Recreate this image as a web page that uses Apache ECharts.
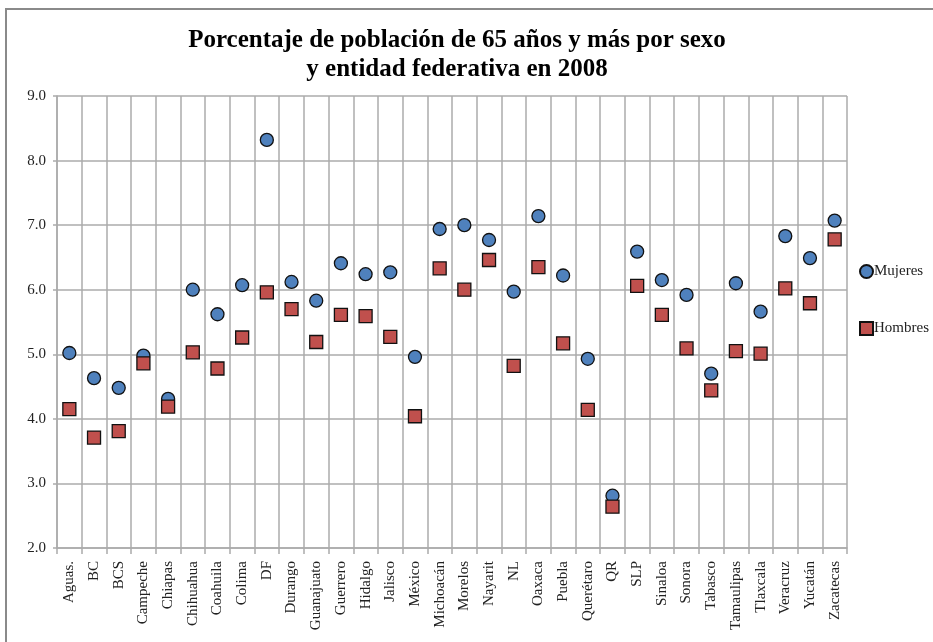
<!DOCTYPE html>
<html>
<head>
<meta charset="utf-8">
<script src="https://cdn.jsdelivr.net/npm/echarts@6/dist/echarts.min.js"></script>
<style>
  html, body { margin: 0; padding: 0; background: #fff; }
  #chart { width: 933px; height: 642px; }
</style>
</head>
<body>
<div id="chart"></div>
<script>
// ============================================================================
// Data
// ============================================================================

const entidades = ['Aguas.', 'BC', 'BCS', 'Campeche', 'Chiapas', 'Chihuahua', 'Coahuila', 'Colima',
    'DF', 'Durango', 'Guanajuato', 'Guerrero', 'Hidalgo', 'Jalisco', 'México', 'Michoacán',
    'Morelos', 'Nayarit', 'NL', 'Oaxaca', 'Puebla', 'Querétaro', 'QR', 'SLP', 'Sinaloa',
    'Sonora', 'Tabasco', 'Tamaulipas', 'Tlaxcala', 'Veracruz', 'Yucatán', 'Zacatecas']

const mujeres = [5.02, 4.63, 4.48, 4.98, 4.31, 6.0, 5.62, 6.07, 8.32, 6.12, 5.83, 6.41, 6.24, 6.27,
    4.96, 6.94, 7.0, 6.77, 5.97, 7.14, 6.22, 4.93, 2.81, 6.59, 6.15, 5.92, 4.70, 6.10, 5.66,
    6.83, 6.49, 7.07]

const hombres = [4.15, 3.71, 3.81, 4.86, 4.19, 5.03, 4.78, 5.26, 5.96, 5.70, 5.19, 5.61, 5.59, 5.27,
    4.04, 6.33, 6.0, 6.46, 4.82, 6.35, 5.17, 4.14, 2.64, 6.06, 5.61, 5.09, 4.44, 5.05, 5.01,
    6.02, 5.79, 6.78]

const serifFont = '"Liberation Serif", "DejaVu Serif", serif'
const gridColor = '#ababab'

// ============================================================================
// Chart
// ============================================================================

var chart = echarts.init(document.getElementById('chart'))
var option = {
    animation: false,
    backgroundColor: '#fff',
    title: {
        text: 'Porcentaje de población de 65 años y más por sexo\ny entidad federativa en 2008',
        left: 452,
        top: 21,
        textAlign: 'center',
        textStyle: {
            fontFamily: serifFont,
            fontWeight: 'bold',
            fontSize: 25,
            lineHeight: 29,
            color: '#000'
        }
    },
    legend: {
        orient: 'vertical',
        left: 854,
        top: 259,
        itemGap: 42,
        itemWidth: 13,
        itemHeight: 13,
        textStyle: {fontFamily: serifFont, fontSize: 15, color: '#222', padding: [7, 0, 0, -4]},
        data: [
            {name: 'Mujeres', icon: 'circle'},
            {name: 'Hombres', icon: 'rect'}
        ]
    },
    graphic: [{
        type: 'rect',
        shape: {x: 6, y: 9, width: 1000, height: 1000},
        style: {fill: 'none', stroke: '#8a8a8a', lineWidth: 2},
        silent: true
    }],
    grid: {left: 57, right: 86, top: 96, bottom: 94},
    xAxis: {
        type: 'category',
        data: entidades,
        boundaryGap: true,
        axisLine: {show: true, lineStyle: {color: gridColor, width: 1.5}},
        axisTick: {show: true, length: 6, lineStyle: {color: gridColor, width: 1.5}},
        splitLine: {show: true, lineStyle: {color: gridColor, width: 1.5}},
        axisLabel: {
            rotate: 90,
            interval: 0,
            margin: 13,
            fontFamily: serifFont,
            fontSize: 15,
            color: '#222'
        }
    },
    yAxis: {
        type: 'value',
        min: 2,
        max: 9,
        interval: 1,
        axisLine: {show: true, lineStyle: {color: gridColor, width: 1.5}},
        axisTick: {show: true, length: 4, lineStyle: {color: gridColor, width: 1.5}},
        splitLine: {show: true, lineStyle: {color: gridColor, width: 1.5}},
        axisLabel: {
            formatter: v => v.toFixed(1),
            margin: 11,
            fontFamily: serifFont,
            fontSize: 15,
            color: '#222'
        }
    },
    series: [
        {
            name: 'Mujeres',
            type: 'scatter',
            symbol: 'circle',
            symbolSize: 13,
            itemStyle: {color: '#4f81bd', borderColor: '#111', borderWidth: 1.3, opacity: 1},
            data: mujeres
        },
        {
            name: 'Hombres',
            type: 'scatter',
            symbol: 'rect',
            symbolSize: 13,
            itemStyle: {color: '#c0504d', borderColor: '#111', borderWidth: 1.3, opacity: 1},
            data: hombres
        }
    ]
}
chart.setOption(option)
</script>
</body>
</html>
